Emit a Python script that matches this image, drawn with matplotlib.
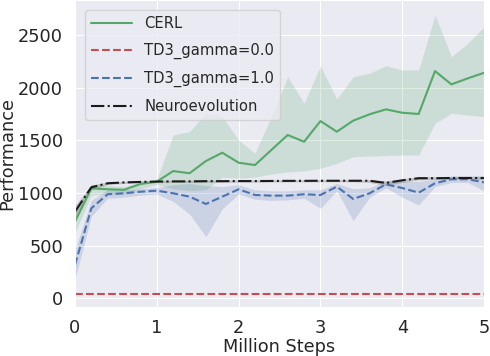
import numpy as np
import matplotlib
matplotlib.use("Agg")
import matplotlib.pyplot as plt
import seaborn as sns

# x in million steps (0.2 increments)
steps = np.arange(26) * 0.2

cerl_mean = [728, 1044, 1035, 1030, 1085, 1107, 1208, 1187, 1303, 1382, 1287, 1265, 1408,
             1550, 1486, 1682, 1581, 1686, 1746, 1793, 1761, 1749, 2156, 2030, 2087, 2140]
cerl_low = [620, 980, 990, 990, 1040, 1080, 1040, 1020, 1030, 1150, 1140, 1150, 1180,
            1200, 1210, 1234, 1280, 1344, 1350, 1355, 1360, 1360, 1660, 1755, 1740, 1723]
cerl_high = [830, 1080, 1070, 1060, 1110, 1130, 1550, 1581, 1755, 1723, 1502, 1376, 1723,
             2102, 1850, 2204, 1891, 2102, 2135, 2207, 2166, 2166, 2687, 2292, 2419, 2576]

td3_g0 = [40] * 26

td3_g1 = [318, 855, 988, 997, 1012, 1022, 997, 965, 896, 965, 1035, 981, 975,
          975, 988, 981, 1060, 943, 997, 1082, 1047, 1003, 1092, 1130, 1130, 1101]
td3_g1_low = [180, 780, 950, 960, 980, 990, 920, 800, 586, 850, 990, 940, 930,
              935, 950, 855, 1020, 737, 960, 1050, 960, 886, 1060, 1100, 1100, 1020]
td3_g1_high = [460, 930, 1030, 1030, 1040, 1050, 1080, 1090, 1070, 1060, 1080, 1030, 1020,
               1020, 1030, 1030, 1090, 1040, 1050, 1110, 1110, 1110, 1130, 1160, 1160, 1160]

neuro = [823, 1054, 1092, 1100, 1105, 1108, 1110, 1110, 1112, 1112, 1113, 1113, 1114,
         1115, 1115, 1116, 1116, 1116, 1116, 1095, 1120, 1140, 1140, 1142, 1142, 1142]
neuro_low = [760, 1030, 1080, 1090, 1095, 1098, 1100, 1100, 1102, 1102, 1103, 1103, 1104,
             1105, 1105, 1106, 1106, 1106, 1100, 1070, 1100, 1125, 1128, 1130, 1130, 1130]
neuro_high = [880, 1075, 1105, 1110, 1115, 1118, 1120, 1120, 1122, 1122, 1123, 1123, 1124,
              1125, 1125, 1126, 1126, 1126, 1126, 1115, 1135, 1155, 1155, 1158, 1158, 1158]

sns.set_style("darkgrid")
plt.rcParams['font.family'] = ['DejaVu Sans']

green = '#55a868'
red = '#c44e52'
blue = '#4c72b0'

fig = plt.figure(figsize=(4.9, 3.56), dpi=100)
ax = fig.add_axes([0.153, 0.138, 0.835, 0.862])

ax.fill_between(steps, cerl_low, cerl_high, color=green, alpha=0.2, lw=0)
ax.fill_between(steps, td3_g1_low, td3_g1_high, color=blue, alpha=0.2, lw=0)
ax.fill_between(steps, neuro_low, neuro_high, color='gray', alpha=0.4, lw=0)

ax.plot(steps, cerl_mean, color=green, lw=1.5, label='CERL')
ax.plot(steps, td3_g0, color=red, lw=1.5, ls='--', label='TD3_gamma=0.0')
ax.plot(steps, td3_g1, color=blue, lw=1.5, ls='--', label='TD3_gamma=1.0')
ax.plot(steps, neuro, color='#1a1a1a', lw=1.5, ls='-.', label='Neuroevolution')

ax.set_xlim(0, 5)
ax.set_ylim(-80, 2830)
ax.set_yticks([0, 500, 1000, 1500, 2000, 2500])
ax.set_xticks([0, 1, 2, 3, 4, 5])
ax.tick_params(labelsize=12.8, pad=5)
ax.set_xlabel('Million Steps', fontsize=12.8, labelpad=1)
ax.set_ylabel('Performance', fontsize=12.8, labelpad=1)

ax.legend(loc='upper left', fontsize=10.6, frameon=True, facecolor='#eaeaf2',
          edgecolor='#cccccc', framealpha=0.8, borderaxespad=0.7,
          labelspacing=0.8, handlelength=2.8)

plt.savefig('out.png', dpi=100)
plt.close()
